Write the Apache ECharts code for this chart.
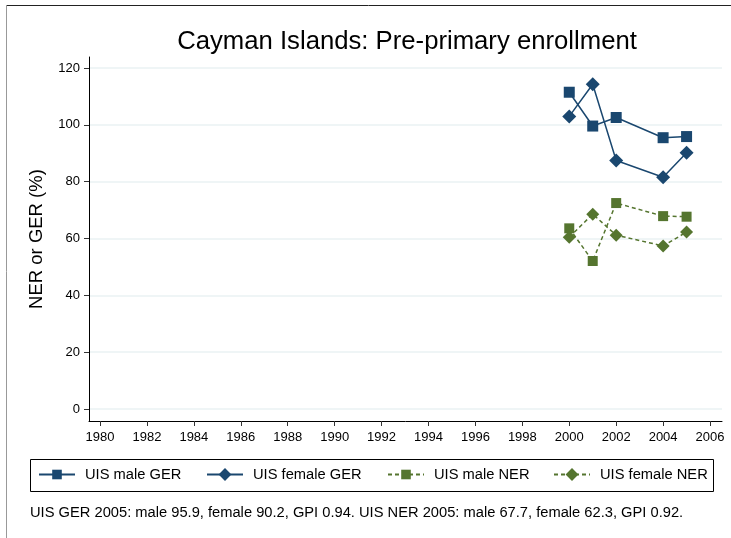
<!DOCTYPE html>
<html>
<head>
<meta charset="utf-8">
<script src="https://cdn.jsdelivr.net/npm/echarts@6/dist/echarts.min.js"></script>
<style>
html,body{margin:0;padding:0;background:#fff;}
#chart{width:731px;height:538px;}
</style>
</head>
<body>
<div id="chart"></div>
<script>
const titleText = 'Cayman Islands: Pre-primary enrollment';
const yAxisTitle = 'NER or GER (%)';
const footnote = 'UIS GER 2005: male 95.9, female 90.2, GPI 0.94. UIS NER 2005: male 67.7, female 62.3, GPI 0.92.';
const years = [2000, 2001, 2002, 2004, 2005];
const maleGER = [111.5, 99.6, 102.6, 95.5, 95.9];
const femaleGER = [103.0, 114.3, 87.5, 81.6, 90.2];
const maleNER = [63.6, 52.1, 72.5, 67.9, 67.7];
const femaleNER = [60.5, 68.6, 61.2, 57.4, 62.3];
const xTicks = [1980,1982,1984,1986,1988,1990,1992,1994,1996,1998,2000,2002,2004,2006];
const yTicks = [0,20,40,60,80,100,120];
const seriesNames = ['UIS male GER','UIS female GER','UIS male NER','UIS female NER'];

const navy = '#1a476f';
const green = '#55752f';
const FONT = 'Liberation Sans, Arial, sans-serif';

function pairs(vals){ return years.map((y,i)=>[y, vals[i]]); }

const chart = echarts.init(document.getElementById('chart'), null, {renderer:'canvas'});

function mkSeries(name, vals, color, symbol, size, dashed){
  return {
    name: name, type: 'line', data: pairs(vals),
    symbol: symbol, symbolSize: size,
    lineStyle: {color: color, width: 1.5, type: dashed ? [4,3] : 'solid'},
    itemStyle: {color: color},
    emphasis: {disabled: true},
    animation: false, z: 3
  };
}

const legendLefts = [38, 206, 387, 553];
const legendIconH = [12, 16, 12, 16];
const legends = seriesNames.map((n,i)=>({
  data: [n], left: legendLefts[i], top: 467, padding: 0,
  itemWidth: 36, itemHeight: legendIconH[i], selectedMode: false,
  textStyle: {fontFamily: FONT, fontSize: 14.7, color: '#000', padding: [0,0,0,5]}
}));

const option = {
  backgroundColor: '#fff',
  animation: false,
  title: [
    {text: titleText, left: 407, top: 29, textAlign: 'center', padding: 0,
     textStyle: {fontFamily: FONT, fontSize: 25.7, fontWeight: 'normal', color: '#000'}},
    {text: footnote, left: 30, top: 505, padding: 0,
     textStyle: {fontFamily: FONT, fontSize: 14.7, fontWeight: 'normal', color: '#000'}}
  ],
  legend: legends,
  grid: {left: 89, right: 9, top: 57, bottom: 117, containLabel: false},
  xAxis: {
    type: 'value', min: 1979.53, max: 2006.51,
    axisLine: {show: true, onZero: false, lineStyle: {color: '#000', width: 1}},
    axisTick: {show: true, length: 5, customValues: xTicks, lineStyle: {color: '#333'}},
    axisLabel: {customValues: xTicks, margin: 10, fontFamily: FONT, fontSize: 13, color: '#000',
      formatter: v => String(v)},
    splitLine: {show: false}
  },
  yAxis: {
    type: 'value', min: -4.2, max: 123.9,
    name: yAxisTitle, nameLocation: 'middle', nameGap: 43, nameRotate: 90,
    nameTextStyle: {fontFamily: FONT, fontSize: 18.5, color: '#000'},
    axisLine: {show: true, onZero: false, lineStyle: {color: '#000', width: 1}},
    axisTick: {show: true, length: 5, customValues: yTicks, lineStyle: {color: '#333'}},
    axisLabel: {customValues: yTicks, margin: 9, fontFamily: FONT, fontSize: 13, color: '#000',
      formatter: v => String(v)},
    splitLine: {show: true, lineStyle: {color: '#eaf2f3', width: 1.5}}
  },
  series: [
    mkSeries(seriesNames[0], maleGER, navy, 'rect', 11, false),
    mkSeries(seriesNames[1], femaleGER, navy, 'diamond', 14, false),
    mkSeries(seriesNames[2], maleNER, green, 'rect', 10, true),
    mkSeries(seriesNames[3], femaleNER, green, 'diamond', 13, true)
  ],
  graphic: [
    {type: 'line', shape: {x1: 6, y1: 5.5, x2: 731, y2: 5.5}, style: {stroke: '#222', lineWidth: 1}, silent: true},
    {type: 'line', shape: {x1: 6.5, y1: 5, x2: 6.5, y2: 538}, style: {stroke: '#999', lineWidth: 1}, silent: true},
    {type: 'rect', shape: {x: 30.5, y: 459.5, width: 683, height: 32}, style: {fill: 'none', stroke: '#000', lineWidth: 1}, silent: true, z: -1}
  ]
};
chart.setOption(option);
</script>
</body>
</html>
